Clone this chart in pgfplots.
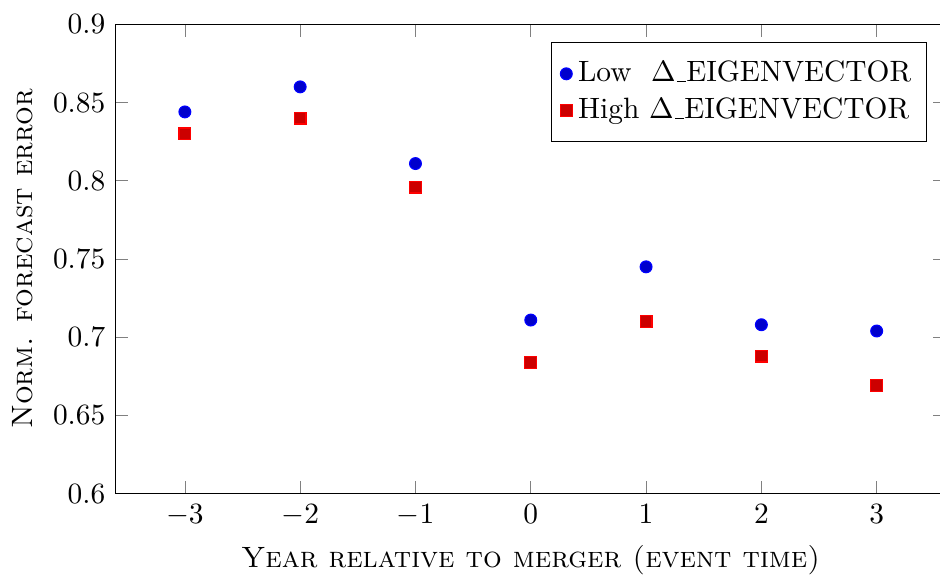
\documentclass[border=0pt]{standalone}
\usepackage{pgfplots}
\pgfplotsset{compat=1.18}
\newcommand{\us}{\leavevmode\kern.06em\vbox{\hrule width.3em}}
\begin{document}
\begin{tikzpicture}
\begin{axis}[scale only axis,width=9.92cm,height=5.61cm,
  xmin=-3.6,xmax=3.6,ymin=0.6,ymax=0.9,
  xtick={-3,-2,-1,0,1,2,3},ytick={0.6,0.65,0.7,0.75,0.8,0.85,0.9},
  xlabel={\textsc{Year relative to merger (event time)}},
  ylabel={\textsc{Norm. forecast error}},
  legend cell align=left,
  legend style={at={(0.977,0.962)},anchor=north east,inner xsep=3.1pt,inner ysep=4.3pt}]
\addplot[only marks,mark=*,blue,mark options={fill=blue!80!black}] coordinates {
(-3,0.844) (-2,0.860) (-1,0.811) (0,0.711) (1,0.745) (2,0.708) (3,0.704)};
\addlegendentry{Low \ $\Delta$\us EIGENVECTOR}
\addplot[only marks,mark=square*,red,mark options={fill=red!80!black}] coordinates {
(-3,0.830) (-2,0.840) (-1,0.796) (0,0.684) (1,0.710) (2,0.688) (3,0.669)};
\addlegendentry{High $\Delta$\us EIGENVECTOR}
\end{axis}
\coordinate (bbsw) at (current bounding box.south west);
\pgfresetboundingbox
\path[use as bounding box] ([xshift=-0.03cm]bbsw) rectangle ([xshift=-0.07cm,yshift=0.29cm]current axis.north east);
\end{tikzpicture}
\end{document}
